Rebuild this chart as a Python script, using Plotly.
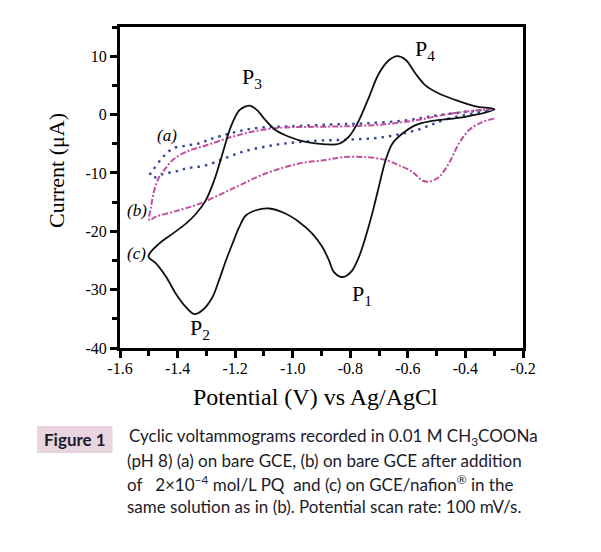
import plotly.graph_objects as go

# ---------------- data ----------------
# curve (c): GCE/nafion, solid black (cathodic sweep then anodic return)
c_x = [-0.300, -0.400, -0.516, -0.573, -0.620, -0.654, -0.677, -0.701, -0.724, -0.747,
       -0.770, -0.793, -0.816, -0.834, -0.857, -0.874, -0.897, -0.932, -0.978, -1.024,
       -1.082, -1.128, -1.163, -1.186, -1.209, -1.232, -1.256, -1.279, -1.313, -1.342,
       -1.371, -1.406, -1.440, -1.475, -1.501,
       -1.464, -1.417, -1.371, -1.336, -1.302, -1.273, -1.244, -1.215, -1.186, -1.163,
       -1.146, -1.123, -1.094, -1.059, -1.013, -0.955, -0.886, -0.839, -0.805, -0.770,
       -0.735, -0.701, -0.666, -0.637, -0.608, -0.573, -0.539, -0.492, -0.435, -0.365,
       -0.300]
c_y = [0.9, -0.4, -1.1, -1.8, -3.3, -5.0, -7.8, -12.4, -17.0, -21.0,
       -24.4, -26.7, -27.7, -27.8, -27.0, -25.0, -22.7, -20.4, -18.4, -17.0,
       -16.1, -16.4, -17.3, -19.3, -22.1, -25.0, -28.4, -31.3, -33.5, -34.2,
       -33.0, -30.7, -27.8, -25.5, -24.3,
       -22.1, -20.4, -18.7, -17.0, -14.7, -11.3, -6.7, -2.1, 0.7, 1.4,
       1.5, 0.7, -1.0, -2.7, -3.8, -4.7, -5.1, -5.0, -3.8, -1.0,
       3.0, 7.0, 9.3, 10.0, 9.4, 7.0, 5.0, 3.6, 2.5, 1.4,
       0.9]

# curve (b): bare GCE + PQ, magenta dash-dot
b_x = [-0.300, -0.342, -0.388, -0.423, -0.458, -0.492, -0.527, -0.550, -0.585, -0.631,
       -0.677, -0.747, -0.828, -0.886, -0.978, -1.094, -1.209, -1.325, -1.417, -1.475,
       -1.498,
       -1.492, -1.481, -1.464, -1.446, -1.417, -1.371, -1.302, -1.209, -1.117, -1.024,
       -0.920, -0.805, -0.689, -0.573, -0.458, -0.365, -0.300]
b_y = [-0.7, -1.3, -2.7, -5.0, -8.4, -10.7, -11.5, -11.3, -9.8, -8.7,
       -7.8, -7.3, -7.3, -7.8, -8.4, -10.1, -12.7, -15.3, -16.7, -17.5,
       -18.1,
       -15.8, -13.0, -10.7, -9.5, -7.8, -6.4, -5.3, -3.8, -2.7, -2.2,
       -2.1, -2.0, -1.7, -1.0, 0.1, 0.7, 1.0]

# curve (a): bare GCE, blue dotted
a_x = [-0.300, -0.458, -0.573, -0.689, -0.805, -0.920, -1.047, -1.175, -1.302, -1.367,
       -1.402, -1.451, -1.478, -1.496,
       -1.485, -1.451, -1.416, -1.367, -1.322, -1.279, -1.140, -1.001, -0.862, -0.747,
       -0.608, -0.492, -0.300]
a_y = [0.9, -0.7, -2.7, -3.9, -4.3, -4.5, -5.1, -6.4, -8.7, -9.2,
       -9.7, -10.2, -10.75, -10.4,
       -9.5, -7.3, -5.8, -5.3, -4.9, -4.1, -2.4, -2.0, -1.7, -1.5,
       -1.0, -0.1, 0.9]

x_tick_vals = [-1.6, -1.4, -1.2, -1.0, -0.8, -0.6, -0.4, -0.2]
x_tick_text = ["-1.6", "-1.4", "-1.2", "-1.0", "-0.8", "-0.6", "-0.4", "-0.2"]
y_tick_vals = [-40, -30, -20, -10, 0, 10]
y_tick_text = ["-40", "-30", "-20", "-10", "0", "10"]

curve_labels = ["(a)", "(b)", "(c)"]
curve_label_x = [-1.437, -1.541, -1.544]
curve_label_y = [-3.6, -16.4, -23.8]

peak_labels = ["P<sub>1</sub>", "P<sub>2</sub>", "P<sub>3</sub>", "P<sub>4</sub>"]
peak_x = [-0.760, -1.322, -1.142, -0.541]
peak_y = [-31.0, -36.7, 6.2, 11.0]

x_title = "Potential (V) vs Ag/AgCl"
y_title = "Current (μA)"
fig_label = "Figure 1"
caption_lines = [
    "Cyclic voltammograms recorded in 0.01 M CH<sub>3</sub>COONa",
    "(pH 8) (a) on bare GCE, (b) on bare GCE after addition",
    "of   2×10<sup>−4</sup> mol/L PQ  and (c) on GCE/nafion<sup>®</sup> in the",
    "same solution as in (b). Potential scan rate: 100 mV/s.",
]

# ---------------- figure ----------------
OFF = 8  # page body margin
W, H = 601, 552
PW, PH = 403, 321
L, T = 120 - OFF, 27 - OFF
R, B = W - L - PW, H - T - PH

def px(x):
    return (x - OFF - L) / PW

def py(y):
    return (T + PH - (y - OFF)) / PH

fig = go.Figure()
fig.add_trace(go.Scatter(x=a_x, y=a_y, mode="lines", line=dict(color="#34479c", width=2.4, dash="2.5px,5px"),
                         line_shape="spline", hoverinfo="skip"))
fig.add_trace(go.Scatter(x=b_x, y=b_y, mode="lines", line=dict(color="#c2509f", width=2, dash="6px,2px,2px,2px"),
                         line_shape="spline", hoverinfo="skip"))
fig.add_trace(go.Scatter(x=c_x, y=c_y, mode="lines", line=dict(color="#111111", width=1.8),
                         line_shape="spline", hoverinfo="skip"))

serif = "Liberation Serif, Times New Roman, serif"
sans = "Lato, Open Sans, sans-serif"

for t, x, y in zip(curve_labels, curve_label_x, curve_label_y):
    fig.add_annotation(x=x, y=y, text=f"<i>{t}</i>", showarrow=False, xanchor="center", yanchor="middle",
                       font=dict(family=serif, size=17, color="#000"))
for t, x, y in zip(peak_labels, peak_x, peak_y):
    fig.add_annotation(x=x, y=y, text=t, showarrow=False, xanchor="center", yanchor="middle",
                       font=dict(family=serif, size=22, color="#000"))

# axis titles
fig.add_annotation(xref="paper", yref="paper", x=px(315), y=py(397), text=x_title, showarrow=False,
                   xanchor="center", yanchor="middle", font=dict(family=serif, size=24, color="#000"))
fig.add_annotation(xref="paper", yref="paper", x=px(56), y=py(171), text=y_title, showarrow=False,
                   xanchor="center", yanchor="middle", textangle=-90,
                   font=dict(family=serif, size=22, color="#000"))

# caption
fig.add_shape(type="rect", xref="paper", yref="paper", x0=px(37), x1=px(112.5), y0=py(453), y1=py(426),
              fillcolor="#e9d4df", line=dict(width=0), layer="below")
fig.add_annotation(xref="paper", yref="paper", x=px(75), y=py(439.5), text=f"<b>{fig_label}</b>",
                   showarrow=False, xanchor="center", yanchor="middle",
                   font=dict(family=sans, size=17, color="#1b1b2b"))
line_y = [437, 460, 483, 506]
line_x = [127, 125, 125, 125]
for t, lx, ly in zip(caption_lines, line_x, line_y):
    fig.add_annotation(xref="paper", yref="paper", x=px(lx), y=py(ly), text=t, showarrow=False,
                       xanchor="left", yanchor="middle",
                       font=dict(family=sans, size=17, color="#1b1b2b"))

axis_common = dict(showline=True, linewidth=3, linecolor="#000", mirror=True, ticks="outside",
                   ticklen=7, tickwidth=2.6, tickcolor="#000", showgrid=False, zeroline=False,
                   tickfont=dict(family=serif, size=16, color="#000"))
fig.update_xaxes(range=[-1.6, -0.2], tickvals=x_tick_vals, ticktext=x_tick_text, ticklabelstandoff=-3,
                 minor=dict(dtick=0.1, tick0=-1.6, ticks="outside", ticklen=5, tickwidth=2.6, tickcolor="#000"),
                 **axis_common)
fig.update_yaxes(range=[-40, 15], tickvals=y_tick_vals, ticktext=y_tick_text,
                 minor=dict(dtick=5, tick0=-40, ticks="outside", ticklen=5, tickwidth=2.6, tickcolor="#000"),
                 **axis_common)

fig.update_layout(width=W, height=H, margin=dict(l=L, r=R, t=T, b=B, autoexpand=False),
                  paper_bgcolor="white", plot_bgcolor="white", showlegend=False)
fig.write_html("out.html")
